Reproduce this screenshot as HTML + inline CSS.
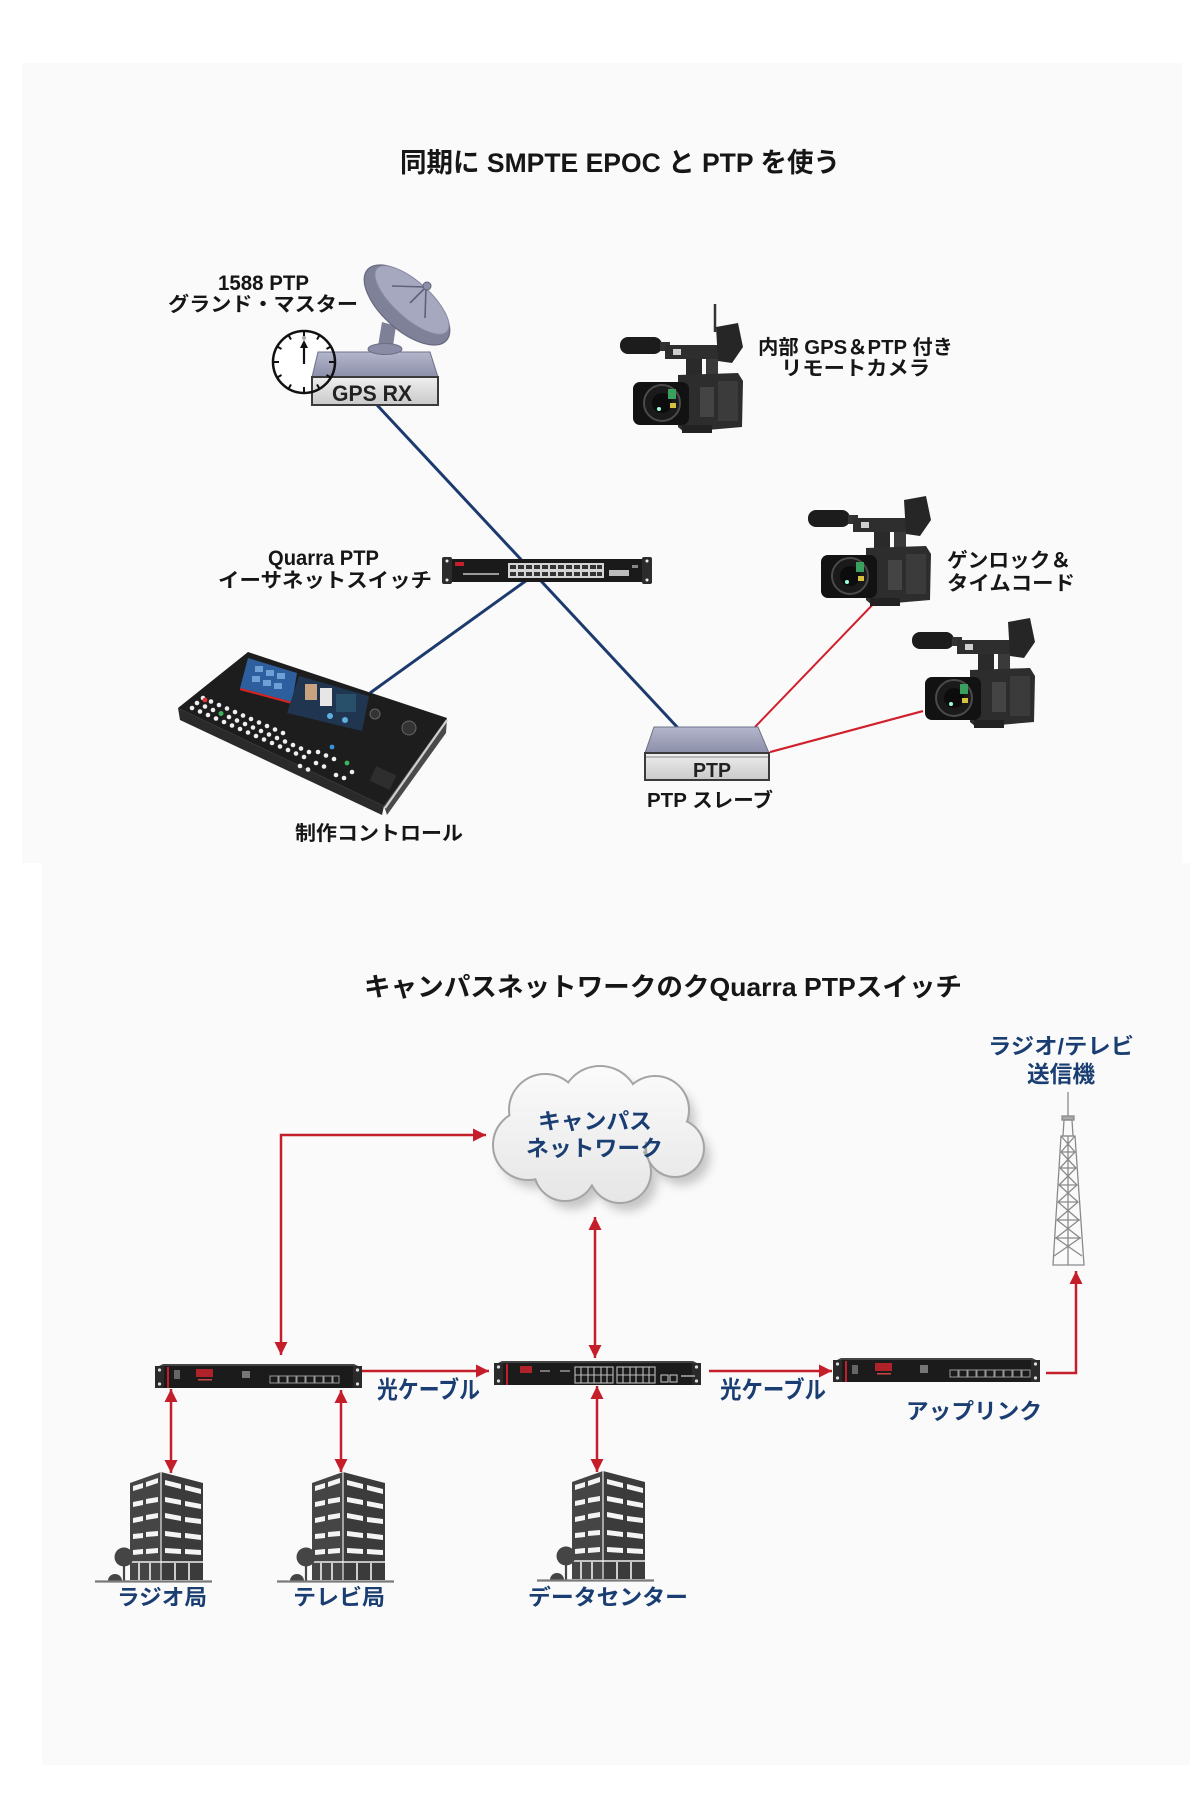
<!DOCTYPE html>
<html><head><meta charset="utf-8">
<style>
html,body{margin:0;padding:0;background:#fff;}
svg{display:block;}
text{font-family:"Liberation Sans","Noto Sans CJK JP",sans-serif;font-weight:700;}
</style></head>
<body>
<svg width="1200" height="1800" viewBox="0 0 1200 1800" xmlns="http://www.w3.org/2000/svg">
<defs>
  <marker id="ah" viewBox="0 0 10 10" refX="10" refY="5" markerWidth="14" markerHeight="13" markerUnits="userSpaceOnUse" orient="auto-start-reverse">
    <path d="M0,0 L10,5 L0,10 z" fill="#c41e2a"/>
  </marker>
  <linearGradient id="boxtop" x1="0" y1="0" x2="0" y2="1">
    <stop offset="0" stop-color="#b4b6cc"/><stop offset="1" stop-color="#8c8fa9"/>
  </linearGradient>
  <linearGradient id="boxfront" x1="0" y1="0" x2="0" y2="1">
    <stop offset="0" stop-color="#efefef"/><stop offset="1" stop-color="#c9c9c9"/>
  </linearGradient>
  <linearGradient id="cloudg" gradientUnits="userSpaceOnUse" x1="0" y1="1067" x2="0" y2="1202">
    <stop offset="0" stop-color="#fbfbfb"/><stop offset="1" stop-color="#e6e6e6"/>
  </linearGradient>
  <filter id="blur" x="-20%" y="-20%" width="140%" height="140%"><feGaussianBlur stdDeviation="5"/></filter>

  <g id="cam">
    <rect x="0" y="0" width="42" height="17" rx="8" fill="#1c1c1c"/>
    <rect x="40" y="5" width="10" height="9" fill="#333"/>
    <path d="M45 8 L108 8 L112 22 L45 22 Z" fill="#2e2e2e"/>
    <rect x="53" y="12" width="8" height="6" fill="#cfcfcf"/>
    <path d="M96 -10 L118 -14 L123 10 L112 26 L98 24 Z" fill="#262626"/>
    <rect x="66" y="22" width="16" height="24" fill="#2a2a2a"/>
    <rect x="86" y="22" width="12" height="20" fill="#3a3a3a"/>
    <path d="M58 38 L118 36 L123 44 L122 90 L64 95 L58 90 Z" fill="#2d2d2d"/>
    <rect x="98" y="44" width="20" height="40" fill="#3b3b3b"/>
    <rect x="80" y="50" width="14" height="30" fill="#444"/>
    <rect x="13" y="45" width="56" height="43" rx="7" fill="#121212"/>
    <circle cx="42" cy="66" r="18" fill="#1a1a1a" stroke="#4a4a4a" stroke-width="2"/>
    <circle cx="42" cy="66" r="10" fill="#0c0c0c"/>
    <rect x="48" y="52" width="8" height="10" fill="#3aa060"/>
    <rect x="50" y="66" width="6" height="5" fill="#d8c040"/>
    <circle cx="39" cy="72" r="2" fill="#9fd"/>
    <rect x="62" y="88" width="30" height="8" fill="#222"/>
  </g>

  <g id="bldg">
    <polygon points="0,11 31,0 31,108 0,108" fill="#454545"/>
    <polygon points="31,0 73,11 73,108 31,108" fill="#3b3b3b"/>
    <line x1="31" y1="0" x2="31" y2="108" stroke="#e8e8e8" stroke-width="1.2"/>
    <g fill="#f4f4f4">
      <polygon points="3,14 13,11 13,16 3,19"/><polygon points="16,10 28,6 28,11 16,15"/>
      <polygon points="35,8 51,12 51,17 35,13"/><polygon points="55,13 71,17 71,22 55,18"/>
      <polygon points="3,30 13,28 13,33 3,35"/><polygon points="16,27 28,25 28,30 16,32"/>
      <polygon points="35,25 51,28 51,33 35,30"/><polygon points="55,29 71,32 71,37 55,34"/>
      <polygon points="3,46 13,44 13,49 3,51"/><polygon points="16,43 28,41 28,46 16,48"/>
      <polygon points="35,41 51,44 51,49 35,46"/><polygon points="55,45 71,47 71,52 55,50"/>
      <polygon points="3,62 13,61 13,66 3,67"/><polygon points="16,60 28,59 28,64 16,65"/>
      <polygon points="35,59 51,61 51,66 35,64"/><polygon points="55,61 71,63 71,68 55,66"/>
      <polygon points="3,78 13,77 13,82 3,83"/><polygon points="16,77 28,76 28,81 16,82"/>
      <polygon points="35,76 51,77 51,82 35,81"/><polygon points="55,77 71,78 71,83 55,82"/>
    </g>
    <g stroke="#f0f0f0" stroke-width="1.6">
      <line x1="9" y1="91" x2="9" y2="108"/><line x1="20" y1="91" x2="20" y2="108"/>
      <line x1="45" y1="91" x2="45" y2="108"/><line x1="59" y1="91" x2="59" y2="108"/>
      <line x1="0" y1="90" x2="73" y2="90"/>
    </g>
    <circle cx="-6" cy="85" r="9.5" fill="#454545"/>
    <line x1="-6" y1="90" x2="-6" y2="109" stroke="#454545" stroke-width="2.2"/>
    <path d="M-22 109 A7 7 0 0 1 -8 109 Z" fill="#454545"/>
    <line x1="-35" y1="109.5" x2="82" y2="109.5" stroke="#7a7a7a" stroke-width="2.2"/>
  </g>

  <g id="rack">
    <path d="M8 1 L199 1 L203 3 L4 3 Z" fill="#444"/>
    <rect x="4" y="3" width="199" height="22" fill="#1b1b1b"/>
    <rect x="0" y="3" width="9" height="22" fill="#2a2a2a"/>
    <rect x="198" y="3" width="9" height="22" fill="#2a2a2a"/>
    <circle cx="4.5" cy="7" r="1.6" fill="#ddd"/><circle cx="4.5" cy="21" r="1.6" fill="#ddd"/>
    <circle cx="202.5" cy="7" r="1.6" fill="#ddd"/><circle cx="202.5" cy="21" r="1.6" fill="#ddd"/>
    <rect x="12" y="4" width="2" height="21" fill="#c41e2a"/>
  </g>
</defs>

<!-- background panels -->
<rect x="22" y="63" width="1160" height="800" fill="#fafafa"/>
<rect x="42" y="863" width="1148" height="902" fill="#fafafa"/>

<!-- ================= TOP SECTION ================= -->
<text x="400" y="172" font-size="27" textLength="440" lengthAdjust="spacingAndGlyphs" fill="#161616">同期に SMPTE EPOC と PTP を使う</text>

<!-- connector lines -->
<line x1="377" y1="405" x2="678" y2="728" stroke="#1d3a6e" stroke-width="3"/>
<line x1="527" y1="580" x2="370" y2="693" stroke="#1d3a6e" stroke-width="3"/>
<line x1="754" y1="728" x2="880" y2="597" stroke="#d0202c" stroke-width="2"/>
<line x1="770" y1="752" x2="923" y2="711" stroke="#d0202c" stroke-width="2.2"/>

<!-- GPS RX grand master -->
<circle cx="304" cy="362" r="31" fill="#fff"/>
<polygon points="318,352 430,352 438,377 312,377" fill="url(#boxtop)" stroke="#6f7189" stroke-width="1"/>
<rect x="312" y="377" width="126" height="28" fill="url(#boxfront)" stroke="#3a3a3a" stroke-width="2"/>
<text x="332" y="401" font-size="22" textLength="80" lengthAdjust="spacingAndGlyphs" fill="#222">GPS RX</text>
<!-- clock -->
<circle cx="304" cy="362" r="31" fill="none" stroke="#111" stroke-width="2.5"/>
<g stroke="#111" stroke-width="2">
  <line x1="304" y1="331" x2="304" y2="337"/><line x1="304" y1="387" x2="304" y2="393"/>
  <line x1="273" y1="362" x2="279" y2="362"/><line x1="329" y1="362" x2="335" y2="362"/>
  <line x1="319.5" y1="335.2" x2="317" y2="339.5"/><line x1="330.8" y1="346.5" x2="326.5" y2="349"/>
  <line x1="330.8" y1="377.5" x2="326.5" y2="375"/><line x1="319.5" y1="388.8" x2="317" y2="384.5"/>
  <line x1="288.5" y1="388.8" x2="291" y2="384.5"/><line x1="277.2" y1="377.5" x2="281.5" y2="375"/>
  <line x1="277.2" y1="346.5" x2="281.5" y2="349"/><line x1="288.5" y1="335.2" x2="291" y2="339.5"/>
</g>
<line x1="304" y1="364" x2="304" y2="345" stroke="#111" stroke-width="2.2"/>
<path d="M300 348 L304 340 L308 348 Z" fill="#111"/>
<circle cx="304" cy="338" r="2" fill="#aaa"/>
<!-- dish -->
<polygon points="382,322 396,326 393,346 378,346" fill="#7e8098"/>
<ellipse cx="385" cy="349" rx="17" ry="5.5" fill="#8a8ca5" stroke="#6c6e86" stroke-width="1"/>
<ellipse cx="407" cy="305" rx="53" ry="25" transform="rotate(42 407 305)" fill="#7f8199" stroke="#666880" stroke-width="1.2"/>
<ellipse cx="412" cy="300" rx="47" ry="18" transform="rotate(42 412 300)" fill="#a6a8c0" stroke="#8a8ca6" stroke-width="1"/>
<g stroke="#5f6178" stroke-width="1.6">
  <line x1="392" y1="286" x2="426" y2="287"/><line x1="425" y1="318" x2="426" y2="287"/>
  <line x1="410" y1="303" x2="426" y2="287"/>
</g>
<circle cx="427" cy="286" r="4" fill="#8d8fa8" stroke="#5f6178"/>

<text x="218" y="290" font-size="21" textLength="91" lengthAdjust="spacingAndGlyphs" fill="#161616">1588 PTP</text>
<text x="168" y="311" font-size="20" textLength="190" lengthAdjust="spacingAndGlyphs" fill="#161616">グランド・マスター</text>

<!-- Quarra PTP switch (top) -->
<rect x="446" y="559" width="202" height="23" rx="2" fill="#1a1a1a"/>
<rect x="442" y="557" width="10" height="27" rx="2" fill="#2c2c2c"/>
<rect x="642" y="557" width="10" height="27" rx="2" fill="#2c2c2c"/>
<circle cx="447" cy="561" r="1.5" fill="#eee"/><circle cx="447" cy="580" r="1.5" fill="#eee"/>
<circle cx="647" cy="561" r="1.5" fill="#eee"/><circle cx="647" cy="580" r="1.5" fill="#eee"/>
<rect x="455" y="562" width="9" height="4" fill="#c4202a"/>
<rect x="463" y="573" width="36" height="2" fill="#999"/>
<rect x="508" y="563" width="96" height="15" fill="#d4d4d4"/>
<g fill="#333">
  <rect x="510" y="565" width="6" height="4"/><rect x="518" y="565" width="6" height="4"/><rect x="526" y="565" width="6" height="4"/><rect x="534" y="565" width="6" height="4"/>
  <rect x="542" y="565" width="6" height="4"/><rect x="550" y="565" width="6" height="4"/><rect x="558" y="565" width="6" height="4"/><rect x="566" y="565" width="6" height="4"/>
  <rect x="574" y="565" width="6" height="4"/><rect x="582" y="565" width="6" height="4"/><rect x="590" y="565" width="6" height="4"/><rect x="597" y="565" width="5" height="4"/>
  <rect x="510" y="572" width="6" height="4"/><rect x="518" y="572" width="6" height="4"/><rect x="526" y="572" width="6" height="4"/><rect x="534" y="572" width="6" height="4"/>
  <rect x="542" y="572" width="6" height="4"/><rect x="550" y="572" width="6" height="4"/><rect x="558" y="572" width="6" height="4"/><rect x="566" y="572" width="6" height="4"/>
  <rect x="574" y="572" width="6" height="4"/><rect x="582" y="572" width="6" height="4"/><rect x="590" y="572" width="6" height="4"/><rect x="597" y="572" width="5" height="4"/>
</g>
<rect x="609" y="570" width="20" height="6" fill="#bbb"/>
<rect x="632" y="565" width="6" height="3" fill="#888"/>

<text x="268" y="565" font-size="21" textLength="111" lengthAdjust="spacingAndGlyphs" fill="#161616">Quarra PTP</text>
<text x="218" y="587" font-size="20" textLength="214" lengthAdjust="spacingAndGlyphs" fill="#161616">イーサネットスイッチ</text>

<!-- production console -->
<polygon points="178,708 180,720 382,815 384,806" fill="#2a2a2a"/>
<polygon points="447,718 446,733 387,815 384,806" fill="#4a4a4a"/>
<line x1="447" y1="720" x2="385" y2="808" stroke="#cfcfcf" stroke-width="2.2"/>
<polygon points="178,708 248,652 447,718 384,806" fill="#1d1d1d"/>
<polygon points="248,658 297,673 292,702 240,688" fill="#2d5e9e"/>
<g fill="#7fb0e6" opacity="0.8">
  <rect x="255" y="666" width="8" height="6"/><rect x="266" y="670" width="8" height="6"/><rect x="277" y="673" width="8" height="6"/>
  <rect x="252" y="676" width="8" height="6"/><rect x="263" y="680" width="8" height="6"/><rect x="274" y="683" width="8" height="6"/>
</g>
<line x1="240" y1="689" x2="292" y2="703" stroke="#d22" stroke-width="2"/>
<polygon points="299,676 369,696 362,731 287,713" fill="#1f3550"/>
<rect x="305" y="684" width="12" height="16" fill="#c9a27f"/>
<rect x="320" y="688" width="12" height="18" fill="#e6e6e6"/>
<rect x="336" y="694" width="20" height="18" fill="#28506a"/>
<circle cx="330" cy="716" r="3" fill="#5fb0e0"/><circle cx="345" cy="720" r="3" fill="#5fb0e0"/>
<g fill="#efefef">
  <circle cx="192" cy="708" r="2.3"/><circle cx="200" cy="711.5" r="2.3"/><circle cx="208" cy="715" r="2.3"/><circle cx="216" cy="718.5" r="2.3"/><circle cx="224" cy="722" r="2.3"/><circle cx="232" cy="725.5" r="2.3"/><circle cx="240" cy="729" r="2.3"/><circle cx="248" cy="732.5" r="2.3"/><circle cx="256" cy="736" r="2.3"/><circle cx="264" cy="739.5" r="2.3"/><circle cx="272" cy="743" r="2.3"/><circle cx="280" cy="746.5" r="2.3"/><circle cx="288" cy="750" r="2.3"/><circle cx="296" cy="753.5" r="2.3"/><circle cx="304" cy="757" r="2.3"/>
  <circle cx="197" cy="703" r="2.3"/><circle cx="205" cy="706.5" r="2.3"/><circle cx="213" cy="710" r="2.3"/><circle cx="221" cy="713.5" r="2.3"/><circle cx="229" cy="717" r="2.3"/><circle cx="237" cy="720.5" r="2.3"/><circle cx="245" cy="724" r="2.3"/><circle cx="253" cy="727.5" r="2.3"/><circle cx="261" cy="731" r="2.3"/><circle cx="269" cy="734.5" r="2.3"/><circle cx="277" cy="738" r="2.3"/><circle cx="285" cy="741.5" r="2.3"/><circle cx="293" cy="745" r="2.3"/><circle cx="301" cy="748.5" r="2.3"/><circle cx="309" cy="752" r="2.3"/>
  <circle cx="203" cy="698" r="2.3"/><circle cx="211" cy="701.5" r="2.3"/><circle cx="219" cy="705" r="2.3"/><circle cx="227" cy="708.5" r="2.3"/><circle cx="235" cy="712" r="2.3"/><circle cx="243" cy="715.5" r="2.3"/><circle cx="251" cy="719" r="2.3"/><circle cx="259" cy="722.5" r="2.3"/><circle cx="267" cy="726" r="2.3"/><circle cx="275" cy="729.5" r="2.3"/><circle cx="283" cy="733" r="2.3"/>
  <circle cx="300" cy="766" r="2.3"/><circle cx="308" cy="769.5" r="2.3"/><circle cx="316" cy="763" r="2.3"/><circle cx="324" cy="766.5" r="2.3"/><circle cx="318" cy="752" r="2.3"/><circle cx="326" cy="755.5" r="2.3"/><circle cx="334" cy="759" r="2.3"/>
  <circle cx="336" cy="775" r="2.3"/><circle cx="344" cy="778" r="2.3"/><circle cx="352" cy="772" r="2.3"/>
</g>
<circle cx="221" cy="713.5" r="2.4" fill="#3bb55a"/><circle cx="205" cy="700" r="2.4" fill="#d33"/>
<circle cx="347" cy="763" r="2.4" fill="#3bb55a"/><circle cx="332" cy="747" r="2.4" fill="#3b8fd5"/>
<circle cx="375" cy="714" r="5" fill="#333" stroke="#666"/><circle cx="409" cy="728" r="7" fill="#333" stroke="#666"/>
<rect x="372" y="770" width="22" height="16" fill="#2e2e2e" transform="rotate(25 383 778)"/>

<text x="295" y="840" font-size="20" textLength="168" lengthAdjust="spacingAndGlyphs" fill="#161616">制作コントロール</text>

<!-- PTP slave -->
<polygon points="654,727 758,727 769,753 645,753" fill="url(#boxtop)" stroke="#6f7189" stroke-width="1"/>
<rect x="645" y="753" width="124" height="27" fill="url(#boxfront)" stroke="#3a3a3a" stroke-width="2"/>
<line x1="646" y1="757" x2="768" y2="757" stroke="#888" stroke-width="1"/>
<text x="693" y="777" font-size="20" textLength="38" lengthAdjust="spacingAndGlyphs" fill="#222">PTP</text>
<text x="647" y="807" font-size="20" textLength="126" lengthAdjust="spacingAndGlyphs" fill="#161616">PTP スレーブ</text>

<!-- cameras -->
<line x1="715" y1="304" x2="715" y2="332" stroke="#333" stroke-width="2.5"/>
<use href="#cam" x="620" y="337"/>
<use href="#cam" x="808" y="510"/>
<use href="#cam" x="912" y="632"/>

<text x="758" y="354" font-size="20" textLength="195" lengthAdjust="spacingAndGlyphs" fill="#161616">内部 GPS＆PTP 付き</text>
<text x="781" y="375" font-size="20" textLength="149" lengthAdjust="spacingAndGlyphs" fill="#161616">リモートカメラ</text>
<text x="947" y="567" font-size="20" textLength="124" lengthAdjust="spacingAndGlyphs" fill="#161616">ゲンロック＆</text>
<text x="947" y="590" font-size="20" textLength="128" lengthAdjust="spacingAndGlyphs" fill="#161616">タイムコード</text>

<!-- ================= BOTTOM SECTION ================= -->
<text x="364" y="996" font-size="26" textLength="598" lengthAdjust="spacingAndGlyphs" fill="#161616">キャンパスネットワークのクQuarra PTPスイッチ</text>

<!-- cloud -->
<g transform="translate(7,9)" filter="url(#blur)" fill="#9a9a9a" opacity="0.55">
  <circle cx="545" cy="1110" r="35"/><circle cx="600" cy="1105" r="38"/><circle cx="655" cy="1110" r="33"/>
  <circle cx="528" cy="1145" r="34"/><circle cx="675" cy="1148" r="28"/><circle cx="565" cy="1170" r="30"/>
  <circle cx="620" cy="1172" r="30"/><circle cx="600" cy="1140" r="45"/>
</g>
<g fill="none" stroke="#a5a5a5" stroke-width="4">
  <circle cx="545" cy="1110" r="35"/><circle cx="600" cy="1105" r="38"/><circle cx="655" cy="1110" r="33"/>
  <circle cx="528" cy="1145" r="34"/><circle cx="675" cy="1148" r="28"/><circle cx="565" cy="1170" r="30"/>
  <circle cx="620" cy="1172" r="30"/>
</g>
<g fill="url(#cloudg)">
  <circle cx="545" cy="1110" r="35"/><circle cx="600" cy="1105" r="38"/><circle cx="655" cy="1110" r="33"/>
  <circle cx="528" cy="1145" r="34"/><circle cx="675" cy="1148" r="28"/><circle cx="565" cy="1170" r="30"/>
  <circle cx="620" cy="1172" r="30"/><circle cx="600" cy="1140" r="45"/>
</g>
<text x="538" y="1129" font-size="22" textLength="114" lengthAdjust="spacingAndGlyphs" fill="#1b3e72">キャンパス</text>
<text x="526" y="1156" font-size="22" textLength="137" lengthAdjust="spacingAndGlyphs" fill="#1b3e72">ネットワーク</text>

<!-- tower -->
<g stroke="#8a8a8a" fill="none" stroke-width="1.3">
  <line x1="1068" y1="1092" x2="1068" y2="1117"/>
  <rect x="1062" y="1116" width="12" height="4" fill="#aaa"/>
  <path d="M1064 1120 L1072 1120 L1073 1136 L1063 1136 Z"/>
  <path d="M1061 1136 L1075 1136 L1084 1265 L1053 1265 Z"/>
  <path d="M1061 1136 L1075 1152 L1060 1168 L1077 1185 L1058 1202 L1079 1220 L1056 1238 L1082 1256"/>
  <path d="M1075 1136 L1061 1152 L1076 1168 L1059 1185 L1078 1202 L1057 1220 L1080 1238 L1054 1256"/>
  <line x1="1062" y1="1152" x2="1074" y2="1152"/><line x1="1060" y1="1168" x2="1076" y2="1168"/>
  <line x1="1059" y1="1185" x2="1077" y2="1185"/><line x1="1058" y1="1202" x2="1078" y2="1202"/>
  <line x1="1057" y1="1220" x2="1080" y2="1220"/><line x1="1055" y1="1238" x2="1081" y2="1238"/>
  <line x1="1068" y1="1136" x2="1068" y2="1265"/>
</g>
<text x="988" y="1054" font-size="22" textLength="146" lengthAdjust="spacingAndGlyphs" fill="#1b3e72">ラジオ/テレビ</text>
<text x="1027" y="1082" font-size="23" textLength="68" lengthAdjust="spacingAndGlyphs" fill="#1b3e72">送信機</text>

<!-- arrows -->
<g stroke="#c41e2a" stroke-width="2.5" fill="none">
  <path d="M486,1135 H281 V1355" marker-start="url(#ah)" marker-end="url(#ah)"/>
  <path d="M362,1371 H489" marker-end="url(#ah)"/>
  <path d="M595,1217 V1358" marker-start="url(#ah)" marker-end="url(#ah)"/>
  <path d="M709,1371 H832" marker-end="url(#ah)"/>
  <path d="M1046,1373 H1076 V1271" marker-end="url(#ah)"/>
  <path d="M171,1389 V1473" marker-start="url(#ah)" marker-end="url(#ah)"/>
  <path d="M341,1390 V1472" marker-start="url(#ah)" marker-end="url(#ah)"/>
  <path d="M597,1386 V1472" marker-start="url(#ah)" marker-end="url(#ah)"/>
</g>

<!-- rack switches -->
<use href="#rack" x="155" y="1363"/>
<rect x="196" y="1369" width="17" height="8" fill="#b0222a"/>
<rect x="198" y="1379" width="14" height="1.5" fill="#c44"/>
<rect x="174" y="1370" width="6" height="9" fill="#666"/>
<rect x="242" y="1371" width="8" height="7" fill="#777"/>
<g fill="none" stroke="#9a9a9a" stroke-width="1">
  <rect x="270" y="1376" width="8" height="7"/><rect x="279" y="1376" width="8" height="7"/><rect x="288" y="1376" width="8" height="7"/><rect x="297" y="1376" width="8" height="7"/>
  <rect x="306" y="1376" width="8" height="7"/><rect x="315" y="1376" width="8" height="7"/><rect x="324" y="1376" width="8" height="7"/><rect x="333" y="1376" width="6" height="7"/>
</g>

<use href="#rack" x="494" y="1360"/>
<rect x="520" y="1366" width="12" height="7" fill="#b0222a"/>
<rect x="540" y="1370" width="10" height="2" fill="#777"/>
<rect x="560" y="1370" width="10" height="2" fill="#777"/>
<g fill="none" stroke="#bdbdbd" stroke-width="1.1">
  <rect x="575" y="1367" width="38" height="16"/><line x1="575" y1="1375" x2="613" y2="1375"/>
  <line x1="581" y1="1367" x2="581" y2="1383"/><line x1="588" y1="1367" x2="588" y2="1383"/><line x1="594" y1="1367" x2="594" y2="1383"/><line x1="601" y1="1367" x2="601" y2="1383"/><line x1="607" y1="1367" x2="607" y2="1383"/>
  <rect x="617" y="1367" width="38" height="16"/><line x1="617" y1="1375" x2="655" y2="1375"/>
  <line x1="623" y1="1367" x2="623" y2="1383"/><line x1="630" y1="1367" x2="630" y2="1383"/><line x1="636" y1="1367" x2="636" y2="1383"/><line x1="643" y1="1367" x2="643" y2="1383"/><line x1="649" y1="1367" x2="649" y2="1383"/>
  <rect x="661" y="1375" width="7" height="7"/><rect x="670" y="1375" width="7" height="7"/>
</g>
<rect x="681" y="1375" width="14" height="2" fill="#888"/>

<use href="#rack" x="833" y="1357"/>
<rect x="875" y="1363" width="17" height="8" fill="#b0222a"/>
<rect x="877" y="1373" width="14" height="1.5" fill="#c44"/>
<rect x="852" y="1365" width="6" height="9" fill="#666"/>
<rect x="920" y="1365" width="8" height="8" fill="#777"/>
<g fill="none" stroke="#9a9a9a" stroke-width="1">
  <rect x="950" y="1370" width="8" height="7"/><rect x="959" y="1370" width="8" height="7"/><rect x="968" y="1370" width="8" height="7"/><rect x="977" y="1370" width="8" height="7"/>
  <rect x="986" y="1370" width="8" height="7"/><rect x="995" y="1370" width="8" height="7"/><rect x="1004" y="1370" width="8" height="7"/><rect x="1013" y="1370" width="8" height="7"/><rect x="1022" y="1370" width="8" height="7"/>
</g>

<text x="377" y="1398" font-size="24" textLength="103" lengthAdjust="spacingAndGlyphs" fill="#1b3e72">光ケーブル</text>
<text x="720" y="1398" font-size="24" textLength="106" lengthAdjust="spacingAndGlyphs" fill="#1b3e72">光ケーブル</text>
<text x="906" y="1419" font-size="22" textLength="136" lengthAdjust="spacingAndGlyphs" fill="#1b3e72">アップリンク</text>

<!-- buildings -->
<use href="#bldg" x="130" y="1472"/>
<use href="#bldg" x="312" y="1472"/>
<use href="#bldg" x="572" y="1471"/>

<text x="117" y="1605" font-size="22" textLength="90" lengthAdjust="spacingAndGlyphs" fill="#1b3e72">ラジオ局</text>
<text x="293" y="1605" font-size="22" textLength="92" lengthAdjust="spacingAndGlyphs" fill="#1b3e72">テレビ局</text>
<text x="528" y="1605" font-size="22" textLength="160" lengthAdjust="spacingAndGlyphs" fill="#1b3e72">データセンター</text>
</svg>
</body></html>
